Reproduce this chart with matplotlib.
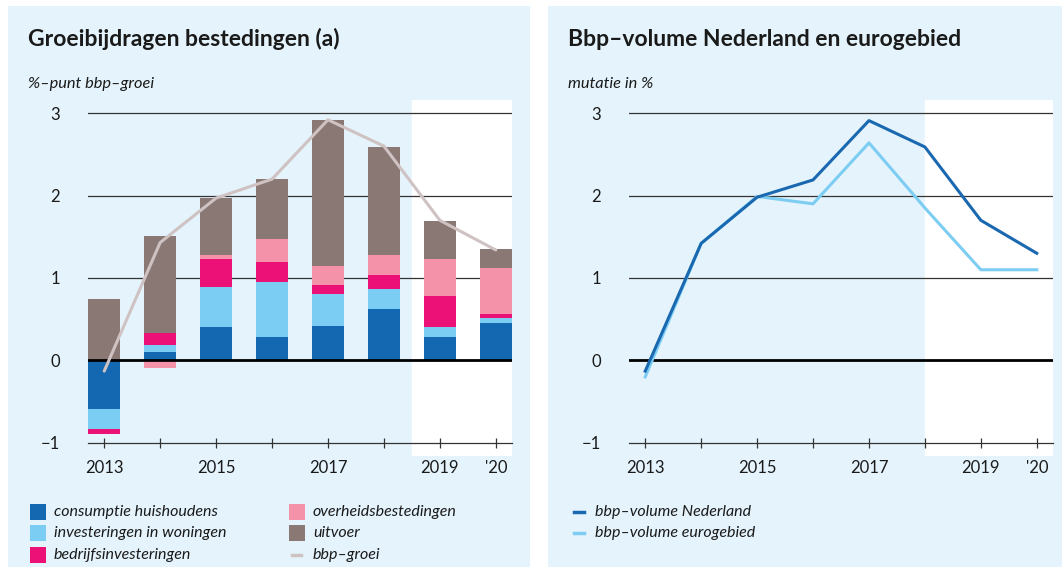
import matplotlib
matplotlib.use("Agg")
import matplotlib.pyplot as plt
from matplotlib.patches import Rectangle
from matplotlib.lines import Line2D
import numpy as np

plt.rcParams['font.family'] = ['Lato', 'DejaVu Sans']

years = [2013, 2014, 2015, 2016, 2017, 2018, 2019, 2020]
xtick_labels = ['2013', '', '2015', '', '2017', '', '2019', "'20"]

# left chart: growth contributions (%-point)
consumptie = [-0.59, 0.105, 0.40, 0.29, 0.42, 0.62, 0.29, 0.46]
woningen = [-0.24, 0.085, 0.49, 0.66, 0.38, 0.25, 0.11, 0.06]
bedrijf = [-0.06, 0.145, 0.34, 0.25, 0.12, 0.17, 0.38, 0.04]
overheid = [0.01, -0.09, 0.05, 0.27, 0.22, 0.24, 0.45, 0.56]
uitvoer = [0.74, 1.18, 0.69, 0.73, 1.78, 1.31, 0.46, 0.23]
bbp_groei = [-0.13, 1.43, 1.97, 2.20, 2.92, 2.60, 1.70, 1.34]

# right chart: GDP volume change (%)
bbp_nl = [-0.13, 1.42, 1.98, 2.19, 2.91, 2.59, 1.70, 1.30]
bbp_euro = [-0.20, 1.42, 1.99, 1.90, 2.64, 1.85, 1.10, 1.10]

series = [
    ('consumptie huishoudens', consumptie, '#1467b1'),
    ('investeringen in woningen', woningen, '#7bcdf3'),
    ('bedrijfsinvesteringen', bedrijf, '#ec1177'),
    ('overheidsbestedingen', overheid, '#f492a9'),
    ('uitvoer', uitvoer, '#8a7874'),
]
line_color = '#cfc2c2'
nl_color = '#1a68b0'
eu_color = '#7dcdf3'
bg = '#e5f4fc'
text_c = '#1a1a1a'

W, H = 1062, 567
fig = plt.figure(figsize=(W / 100, H / 100), dpi=100)
fig.patch.set_facecolor('white')

def fx(px):
    return px / W

def fy(py):
    return 1 - py / H

# panel backgrounds
fig.add_artist(Rectangle((fx(8), 0), fx(530) - fx(8), fy(6), transform=fig.transFigure,
                         facecolor=bg, edgecolor='none', zorder=-10))
fig.add_artist(Rectangle((fx(548), 0), fx(1062) - fx(548), fy(6), transform=fig.transFigure,
                         facecolor=bg, edgecolor='none', zorder=-10))

def make_axes(left_px, right_px):
    ax = fig.add_axes([fx(left_px), fy(456), fx(right_px) - fx(left_px), fy(100) - fy(456)])
    ax.set_facecolor('none')
    ax.set_xlim(2012.71, 2020.29)
    ax.set_ylim(-1.16, 3.16)
    for s in ['top', 'right', 'left']:
        ax.spines[s].set_visible(False)
    ax.spines['bottom'].set_position(('data', -1))
    ax.spines['bottom'].set_color('#333333')
    ax.spines['bottom'].set_linewidth(0.9)
    ax.set_xticks(years)
    ax.set_xticklabels(xtick_labels)
    ax.tick_params(axis='x', direction='inout', length=7, width=0.9, color='#333333',
                   labelsize=12, pad=9, labelcolor=text_c)
    ax.set_yticks([-1, 0, 1, 2, 3])
    ax.set_yticklabels(['\u22121', '0', '1', '2', '3'])
    ax.tick_params(axis='y', length=0, pad=20, labelsize=12, labelcolor=text_c)
    for v in [1, 2, 3]:
        ax.axhline(v, color='#333333', lw=0.9, zorder=1)
    return ax

# ---------- left chart ----------
ax1 = make_axes(88, 512)
ax1.axvspan(2018.5, 2020.29, color='white', zorder=0)
pos = np.zeros(len(years))
neg = np.zeros(len(years))
for name, vals, col in series:
    vals = np.array(vals)
    bottoms = np.where(vals >= 0, pos, neg)
    ax1.bar(years, vals, width=0.58, bottom=bottoms, color=col, zorder=2, linewidth=0)
    pos = pos + np.where(vals >= 0, vals, 0)
    neg = neg + np.where(vals < 0, vals, 0)
ax1.axhline(0, color='black', lw=2, zorder=3)
ax1.plot(years, bbp_groei, color=line_color, lw=2.2, zorder=4, solid_capstyle='round')

# ---------- right chart ----------
ax2 = make_axes(629, 1053)
ax2.axvspan(2018.0, 2020.29, color='white', zorder=0)
ax2.axhline(0, color='black', lw=2, zorder=3)
ax2.plot(years, bbp_euro, color=eu_color, lw=2.2, zorder=4)
ax2.plot(years, bbp_nl, color=nl_color, lw=2.2, zorder=5)

# titles
fig.text(fx(28), fy(39), 'Groeibijdragen bestedingen (a)', fontsize=16.5, fontweight='bold',
         color=text_c, va='center', ha='left')
fig.text(fx(28), fy(84), '%\u2013punt bbp\u2013groei', fontsize=11.8, style='italic',
         color=text_c, va='center', ha='left')
fig.text(fx(568), fy(39), 'Bbp\u2013volume Nederland en eurogebied', fontsize=16.5, fontweight='bold',
         color=text_c, va='center', ha='left')
fig.text(fx(568), fy(84), 'mutatie in %', fontsize=11.8, style='italic',
         color=text_c, va='center', ha='left')

# left legend
leg_items = [
    (30, 512, 'consumptie huishoudens', '#1467b1', 'patch'),
    (30, 533, 'investeringen in woningen', '#7bcdf3', 'patch'),
    (30, 555, 'bedrijfsinvesteringen', '#ec1177', 'patch'),
    (289, 512, 'overheidsbestedingen', '#f492a9', 'patch'),
    (289, 533, 'uitvoer', '#8a7874', 'patch'),
    (289, 555, 'bbp\u2013groei', line_color, 'line'),
]
for x, y, label, col, kind in leg_items:
    if kind == 'patch':
        fig.add_artist(Rectangle((fx(x), fy(y + 8)), fx(16), 16 / H, transform=fig.transFigure,
                                 facecolor=col, edgecolor='none'))
    else:
        fig.add_artist(Line2D([fx(x + 3), fx(x + 12)], [fy(y), fy(y)], transform=fig.transFigure,
                              color=col, lw=2.5))
    fig.text(fx(x + 24), fy(y), label, fontsize=11.5, style='italic', color=text_c,
             va='center', ha='left')

# right legend
for y, label, col in [(512, 'bbp\u2013volume Nederland', nl_color),
                      (533, 'bbp\u2013volume eurogebied', eu_color)]:
    fig.add_artist(Line2D([fx(574), fx(584)], [fy(y), fy(y)], transform=fig.transFigure,
                          color=col, lw=2.5))
    fig.text(fx(595), fy(y), label, fontsize=11.5, style='italic', color=text_c,
             va='center', ha='left')

fig.savefig('out.png', dpi=100, facecolor='white')
